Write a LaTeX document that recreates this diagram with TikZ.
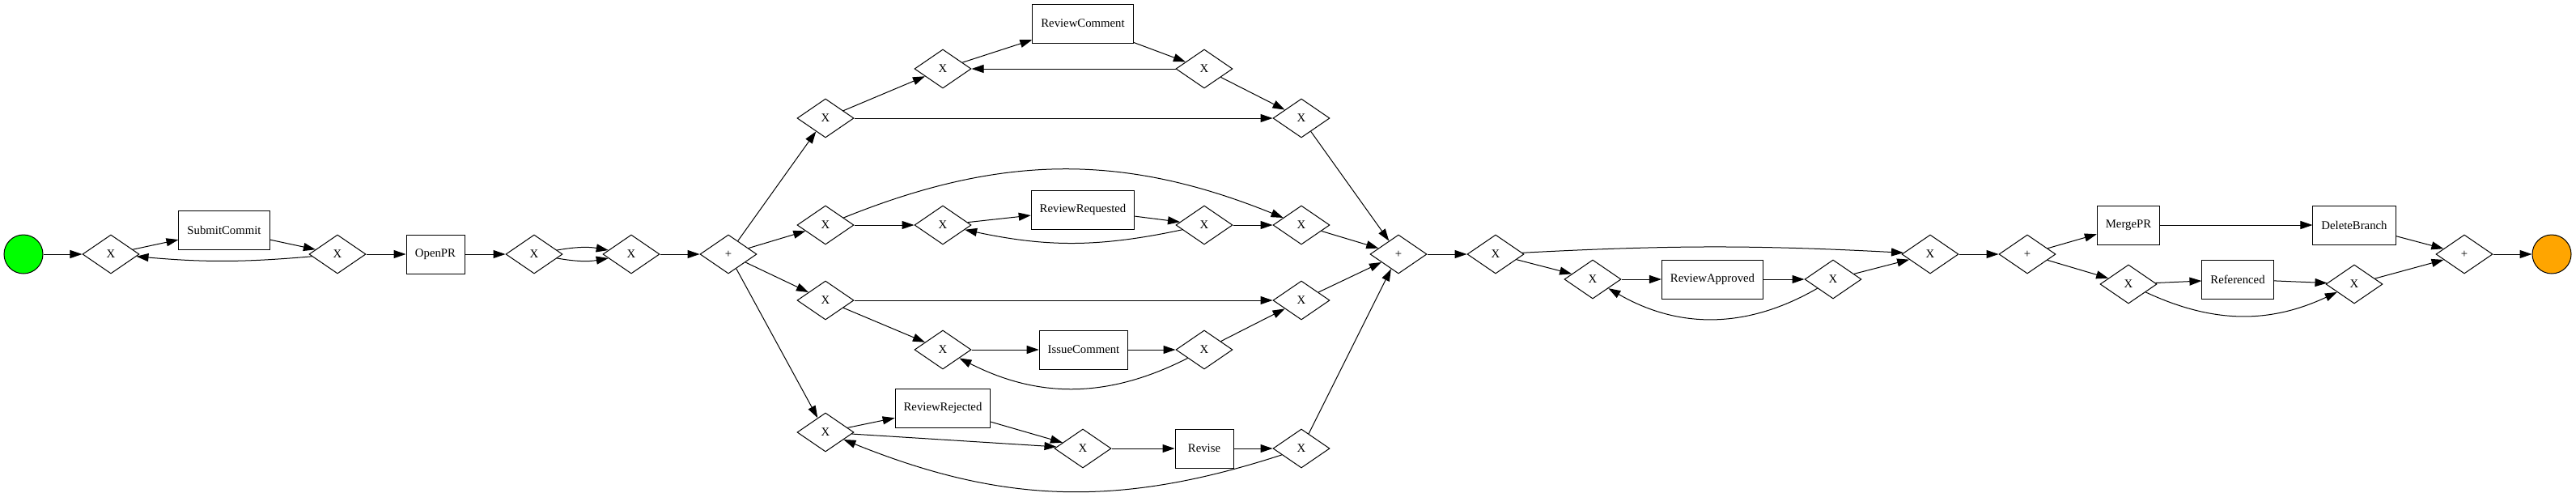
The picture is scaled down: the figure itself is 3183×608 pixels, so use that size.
\documentclass[tikz,border=0pt]{standalone}
\usepackage{fontspec}
\setmainfont{Liberation Serif}
\usetikzlibrary{arrows.meta,shapes,positioning}
\definecolor{endorange}{HTML}{FFA500}

\begin{document}
\begin{tikzpicture}[x=0.2mm, y=-0.2mm, ->, >={Triangle[length=3mm,width=2mm]},
  line width=0.2mm,
  every node/.style={font=\fontsize{8.4}{10}\selectfont},
  gw/.style={draw, diamond, minimum width=14mm, minimum height=9.6mm, inner sep=0pt},
  task/.style={draw, rectangle, minimum width=14.4mm, minimum height=9.6mm, inner xsep=2.1mm},
  event/.style={draw, circle, minimum size=9.6mm}]
  \useasboundingbox (0,0) rectangle (3183,608);

  \node[event, fill=green] (start) at (29,314) {};
  \node[gw] (x1) at (137,314) {X};
  \node[task] (submit) at (277,284) {SubmitCommit};
  \node[gw] (x2) at (417,314) {X};
  \node[task] (openpr) at (538,314) {OpenPR};
  \node[gw] (x3) at (660,314) {X};
  \node[gw] (x4) at (780,314) {X};
  \node[gw] (p1) at (900,314) {+};

  % four parallel branches
  \node[gw] (xa) at (1020,146) {X};
  \node[gw] (xb) at (1165,85) {X};
  \node[task] (rcomment) at (1338,29) {ReviewComment};
  \node[gw] (xc) at (1488,85) {X};
  \node[gw] (xd) at (1608,146) {X};

  \node[gw] (xe) at (1020,278) {X};
  \node[gw] (xf) at (1165,278) {X};
  \node[task] (rrequested) at (1338,259) {ReviewRequested};
  \node[gw] (xg) at (1488,278) {X};
  \node[gw] (xh) at (1608,278) {X};

  \node[gw] (xi) at (1020,371) {X};
  \node[gw] (xj) at (1165,432) {X};
  \node[task] (icomment) at (1339,432) {IssueComment};
  \node[gw] (xk) at (1488,432) {X};
  \node[gw] (xl) at (1608,371) {X};

  \node[gw] (xm) at (1020,534) {X};
  \node[task] (rrejected) at (1165,504) {ReviewRejected};
  \node[gw] (xn) at (1338,554) {X};
  \node[task] (revise) at (1488,554) {Revise};
  \node[gw] (xo) at (1608,554) {X};

  \node[gw] (p2) at (1728,314) {+};
  \node[gw] (xp) at (1848,314) {X};
  \node[gw] (xq) at (1968,345) {X};
  \node[task] (rapproved) at (2116,345) {ReviewApproved};
  \node[gw] (xr) at (2265,345) {X};
  \node[gw] (xs) at (2385,314) {X};

  \node[gw] (p3) at (2505,314) {+};
  \node[task] (mergepr) at (2630,278) {MergePR};
  \node[task] (delbranch) at (2909,278) {DeleteBranch};
  \node[gw] (xt) at (2630,351) {X};
  \node[task] (referenced) at (2765,345) {Referenced};
  \node[gw] (xu) at (2909,351) {X};
  \node[gw] (p4) at (3045,314) {+};
  \node[event, fill=endorange] (end) at (3153,314) {};

  \draw (start) -- (x1);
  \draw (x1) -- (submit);
  \draw (submit) -- (x2);
  \draw (x2) edge[bend left=5] (x1);
  \draw (x2) -- (openpr);
  \draw (openpr) -- (x3);
  \draw (x3) edge[bend left=10] (x4);
  \draw (x3) edge[bend right=10] (x4);
  \draw (x4) -- (p1);

  \draw (p1) -- (xa);
  \draw (xa) -- (xb);
  \draw (xb) -- (rcomment);
  \draw (rcomment) -- (xc);
  \draw (xc) -- (xb);
  \draw (xc) -- (xd);
  \draw (xa) -- (xd);
  \draw (xd) -- (p2);

  \draw (p1) -- (xe);
  \draw (xe) -- (xf);
  \draw (xf) -- (rrequested);
  \draw (rrequested) -- (xg);
  \draw (xg) edge[bend left=12] (xf);
  \draw (xg) -- (xh);
  \draw (xe) edge[bend left=22] (xh);
  \draw (xh) -- (p2);

  \draw (p1) -- (xi);
  \draw (xi) -- (xl);
  \draw (xi) -- (xj);
  \draw (xj) -- (icomment);
  \draw (icomment) -- (xk);
  \draw (xk) edge[bend left=27] (xj);
  \draw (xk) -- (xl);
  \draw (xl) -- (p2);

  \draw (p1) -- (xm);
  \draw (xm) -- (rrejected);
  \draw (rrejected) -- (xn);
  \draw (xm) -- (xn);
  \draw (xn) -- (revise);
  \draw (revise) -- (xo);
  \draw (xo) edge[bend left=20] (xm);
  \draw (xo) -- (p2);

  \draw (p2) -- (xp);
  \draw (xp) -- (xq);
  \draw (xq) -- (rapproved);
  \draw (rapproved) -- (xr);
  \draw (xr) edge[bend left=30] (xq);
  \draw (xr) -- (xs);
  \draw (xp) edge[bend left=3] (xs);
  \draw (xs) -- (p3);

  \draw (p3) -- (mergepr);
  \draw (p3) -- (xt);
  \draw (mergepr) -- (delbranch);
  \draw (delbranch) -- (p4);
  \draw (xt) -- (referenced);
  \draw (referenced) -- (xu);
  \draw (xt) edge[bend right=25] (xu);
  \draw (xu) -- (p4);
  \draw (p4) -- (end);
\end{tikzpicture}
\end{document}
